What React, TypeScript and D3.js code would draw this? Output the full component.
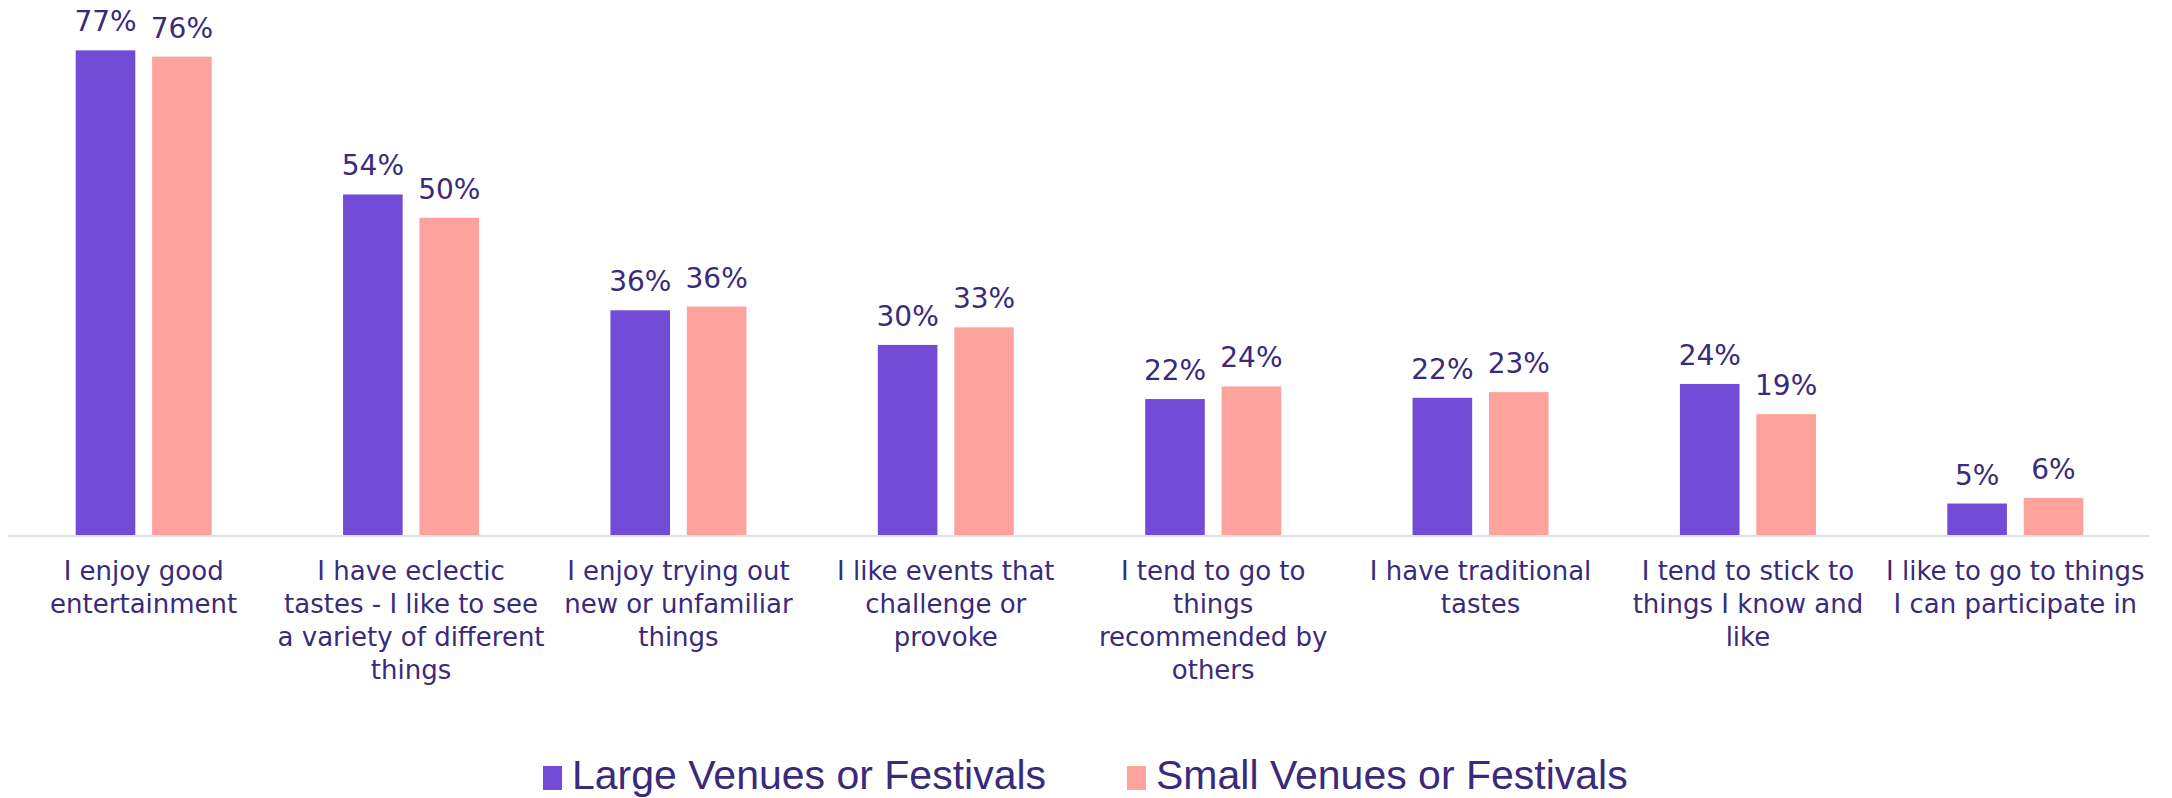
import React from "react";
import * as d3 from "d3";

// categories (pre-wrapped as in the source chart)
const categories = [
  ["I enjoy good", "entertainment"],
  ["I have eclectic", "tastes - I like to see", "a variety of different", "things"],
  ["I enjoy trying out", "new or unfamiliar", "things"],
  ["I like events that", "challenge or", "provoke"],
  ["I tend to go to", "things", "recommended by", "others"],
  ["I have traditional", "tastes"],
  ["I tend to stick to", "things I know and", "like"],
  ["I like to go to things", "I can participate in"],
];

const seriesNames = ["Large Venues or Festivals", "Small Venues or Festivals"];
const largeVenues = [77, 54.1, 35.7, 30.2, 21.6, 21.8, 24, 5];
const smallVenues = [76, 50.4, 36.3, 33, 23.6, 22.7, 19.2, 5.9];

const colors = ["#724bd6", "#fda29c"];
const textColor = "#3a2a7c";

const W = 2172;
const H = 798;

export default function App() {
  const x0 = d3
    .scaleBand<number>()
    .domain(d3.range(categories.length))
    .range([10, 2149]);

  const groupW = 136;
  const x1 = d3
    .scaleBand<number>()
    .domain([0, 1])
    .range([0, groupW])
    .paddingInner(0.22);

  const y = d3.scaleLinear().domain([0, 85]).range([535, 0]);

  const series = [largeVenues, smallVenues];
  const fmt = (v: number) => `${Math.round(v)}%`;

  return (
    <svg
      width={W}
      height={H}
      style={{ position: "absolute", left: 0, top: 0, background: "#fff" }}
      fontFamily="DejaVu Sans"
    >
      {categories.map((lines, i) => {
        const gx = x0(i)! + x0.bandwidth() / 2 - groupW / 2;
        return (
          <g key={i} transform={`translate(${gx},0)`}>
            {series.map((vals, s) => (
              <g key={s}>
                <rect
                  x={x1(s)}
                  y={y(vals[i])}
                  width={x1.bandwidth()}
                  height={y(0) - y(vals[i])}
                  fill={colors[s]}
                />
                <text
                  x={x1(s)! + x1.bandwidth() / 2}
                  y={y(vals[i]) - 19}
                  textAnchor="middle"
                  fontSize={28}
                  fill={textColor}
                >
                  {fmt(vals[i])}
                </text>
              </g>
            ))}
          </g>
        );
      })}

      <line x1={8} x2={2149} y1={y(0) + 1} y2={y(0) + 1} stroke="#dde1ea" strokeWidth={2} />

      {categories.map((lines, i) => (
        <text
          key={i}
          x={x0(i)! + x0.bandwidth() / 2}
          y={580}
          textAnchor="middle"
          fontSize={26}
          fill={textColor}
        >
          {lines.map((l, k) => (
            <tspan key={k} x={x0(i)! + x0.bandwidth() / 2} dy={k === 0 ? 0 : 33}>
              {l}
            </tspan>
          ))}
        </text>
      ))}

      {/* legend */}
      {seriesNames.map((name, s) => {
        const lx = [543, 1127][s];
        return (
          <g key={name} transform={`translate(${lx},0)`}>
            <rect x={0} y={766} width={19} height={24} fill={colors[s]} />
            <text
              x={29}
              y={789}
              fontFamily="Liberation Sans"
              fontSize={41}
              fill={textColor}
            >
              {name}
            </text>
          </g>
        );
      })}
    </svg>
  );
}
